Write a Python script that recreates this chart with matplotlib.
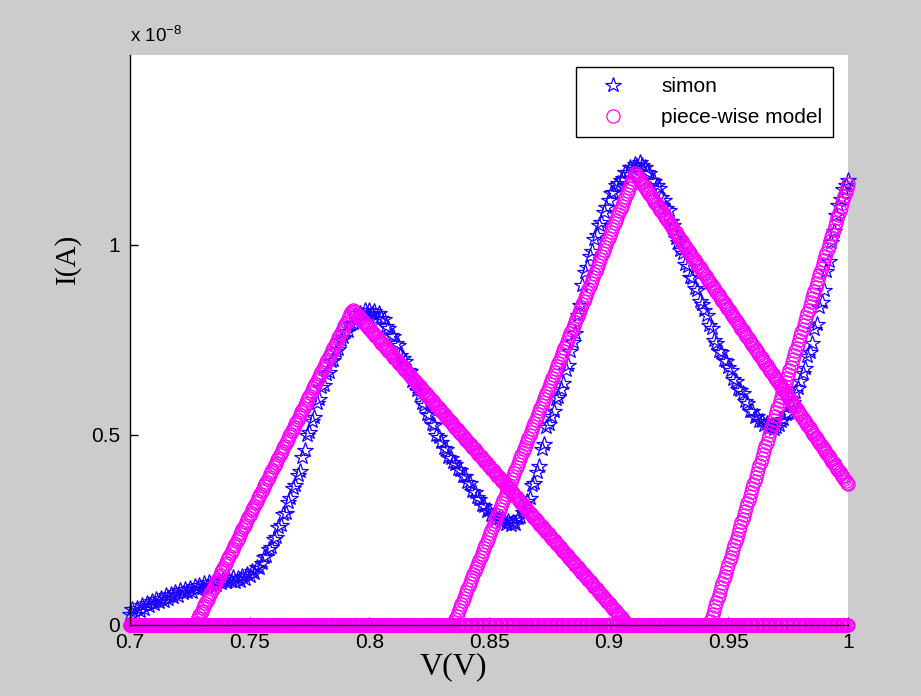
import numpy as np
import matplotlib
matplotlib.use('Agg')
import matplotlib.pyplot as plt

# measured I-V data ("simon"), current in units of 1e-8 A, V from 0.700 to 1.000 step 0.001
simon_v_start = 0.7
simon_v_end = 1.0
simon_i = [
    0.030, 0.041, 0.028, 0.046, 0.037,  0.052, 0.043, 0.058, 0.049, 0.063,
    0.055, 0.068, 0.061, 0.072, 0.064,  0.078, 0.069, 0.081, 0.074, 0.086,
    0.077, 0.091, 0.083, 0.095, 0.086,  0.098, 0.088, 0.102, 0.094, 0.106,
    0.097, 0.110, 0.101, 0.113, 0.104,  0.116, 0.105, 0.119, 0.110, 0.121,
    0.112, 0.124, 0.115, 0.127, 0.113,  0.125, 0.117, 0.130, 0.122, 0.134,
    0.128, 0.141, 0.136, 0.152, 0.149,  0.163, 0.178, 0.181, 0.200, 0.205,
    0.226, 0.232, 0.258, 0.264, 0.292,  0.296, 0.324, 0.333, 0.361, 0.368,
    0.395, 0.404, 0.443, 0.461, 0.500,  0.508, 0.537, 0.548, 0.583, 0.596,
    0.626, 0.631, 0.660, 0.667, 0.694,  0.698, 0.722, 0.726, 0.751, 0.757,
    0.772, 0.775, 0.792, 0.796, 0.812,  0.806, 0.820, 0.815, 0.828, 0.819,
    0.830, 0.818, 0.826, 0.809, 0.821,  0.807, 0.804, 0.786, 0.782, 0.764,
    0.761, 0.741, 0.736, 0.711, 0.703,  0.694, 0.671, 0.668, 0.641, 0.635,
    0.618, 0.608, 0.583, 0.578, 0.556,  0.552, 0.530, 0.527, 0.501, 0.495,
    0.482, 0.467, 0.463, 0.443, 0.440,  0.428, 0.424, 0.410, 0.408, 0.391,
    0.392, 0.376, 0.373, 0.353, 0.350,  0.338, 0.331, 0.317, 0.314, 0.299,
    0.302, 0.289, 0.291, 0.278, 0.282,  0.272, 0.279, 0.265, 0.274, 0.263,
    0.270, 0.266, 0.281, 0.283, 0.298,  0.296, 0.327, 0.334, 0.368, 0.375,
    0.402, 0.418, 0.462, 0.477, 0.521,  0.528, 0.551, 0.563, 0.594, 0.601,
    0.622, 0.637, 0.672, 0.684, 0.721,  0.744, 0.768, 0.816, 0.841, 0.896,
    0.928, 0.941, 0.972, 0.983, 1.016,  1.027, 1.052, 1.061, 1.087, 1.101,
    1.118, 1.136, 1.139, 1.158, 1.162,  1.172, 1.177, 1.191, 1.193, 1.206,
    1.201, 1.213, 1.209, 1.218, 1.211,  1.206, 1.192, 1.190, 1.171, 1.168,
    1.158, 1.149, 1.127, 1.119, 1.097,  1.092, 1.063, 1.052, 1.019, 1.008,
    0.986, 0.978, 0.951, 0.944, 0.916,  0.912, 0.888, 0.881, 0.853, 0.846,
    0.828, 0.816, 0.789, 0.781, 0.751,  0.742, 0.722, 0.719, 0.697, 0.694,
    0.678, 0.670, 0.648, 0.643, 0.621,  0.618, 0.611, 0.589, 0.583, 0.562,
    0.563, 0.548, 0.551, 0.536, 0.538,  0.527, 0.531, 0.518, 0.526, 0.515,
    0.521, 0.526, 0.537, 0.541, 0.556,  0.558, 0.579, 0.588, 0.612, 0.623,
    0.641, 0.663, 0.676, 0.707, 0.718,  0.741, 0.778, 0.793, 0.836, 0.851,
    0.882, 0.931, 0.957, 1.009, 1.036,  1.078, 1.104, 1.121, 1.147, 1.158,
    1.172,
]

# piece-wise linear model: breakpoints of the three branches (I in 1e-8 A)
branch1_v = [0.7, 0.727, 0.793, 0.908, 1.0]
branch1_i = [0.0, 0.0, 0.83, 0.0, 0.0]
branch2_v = [0.7, 0.835, 0.911, 1.0]
branch2_i = [0.0, 0.0, 1.19, 0.37]
branch3_v = [0.7, 0.942, 1.0]
branch3_i = [0.0, 0.0, 1.16]
model_points = 601

xticks = [0.7, 0.75, 0.8, 0.85, 0.9, 0.95, 1.0]
xticklabels = ['0.7', '0.75', '0.8', '0.85', '0.9', '0.95', '1']
yticks = [0, 0.5, 1]
yticklabels = ['0', '0.5', '1']

simon_v = np.linspace(simon_v_start, simon_v_end, len(simon_i))
model_v = np.linspace(0.7, 1.0, model_points)

plt.rcParams['font.family'] = ['Liberation Sans', 'DejaVu Sans']

fig = plt.figure(figsize=(9.21, 6.96), dpi=100, facecolor='#cccccc')
ax = fig.add_axes([130/921, 71/696, 718/921, 570/696])
ax.set_facecolor('white')

ax.plot(simon_v, simon_i, linestyle='none', marker='*', markersize=11.5,
        markerfacecolor='none', markeredgecolor='#1a00ff', markeredgewidth=0.9,
        label='simon', clip_on=False)

first = True
for bv, bi in [(branch1_v, branch1_i), (branch2_v, branch2_i), (branch3_v, branch3_i)]:
    ax.plot(model_v, np.interp(model_v, bv, bi), linestyle='none', marker='o',
            markersize=9.5, markerfacecolor='none', markeredgecolor='#ff00ff',
            markeredgewidth=0.9, label='piece-wise model' if first else None,
            clip_on=False)
    first = False

ax.set_xlim(0.7, 1.0)
ax.set_ylim(0, 1.5)
ax.set_xticks(xticks)
ax.set_xticklabels(xticklabels)
ax.set_yticks(yticks)
ax.set_yticklabels(yticklabels)
ax.tick_params(direction='in', length=6, width=1, labelsize=15)
ax.tick_params(axis='y', pad=7)
ax.tick_params(axis='x', pad=6)
ax.spines['top'].set_visible(False)
ax.spines['right'].set_visible(False)
ax.spines['left'].set_linewidth(1)
ax.spines['bottom'].set_linewidth(1)

ax.text(0.0, 1.015, r'x 10$^{\mathregular{-8}}$', transform=ax.transAxes,
        fontsize=13.5, ha='left', va='bottom')

ax.set_xlabel('V(V)', family='Liberation Serif', fontsize=23)
ax.xaxis.set_label_coords(0.451, -0.047)
ax.set_ylabel('I(A)', family='Liberation Serif', fontsize=21)
ax.yaxis.set_label_coords(-0.068, 0.643)

leg = ax.legend(loc='upper right', bbox_to_anchor=(0.979, 0.979), borderaxespad=0,
                fancybox=False, framealpha=1, edgecolor='black', fontsize=15,
                handletextpad=1.0, borderpad=0.5, labelspacing=0.55,
                handlelength=2.6)
leg.get_frame().set_linewidth(1)

plt.savefig('out.png', dpi=100, facecolor=fig.get_facecolor())
